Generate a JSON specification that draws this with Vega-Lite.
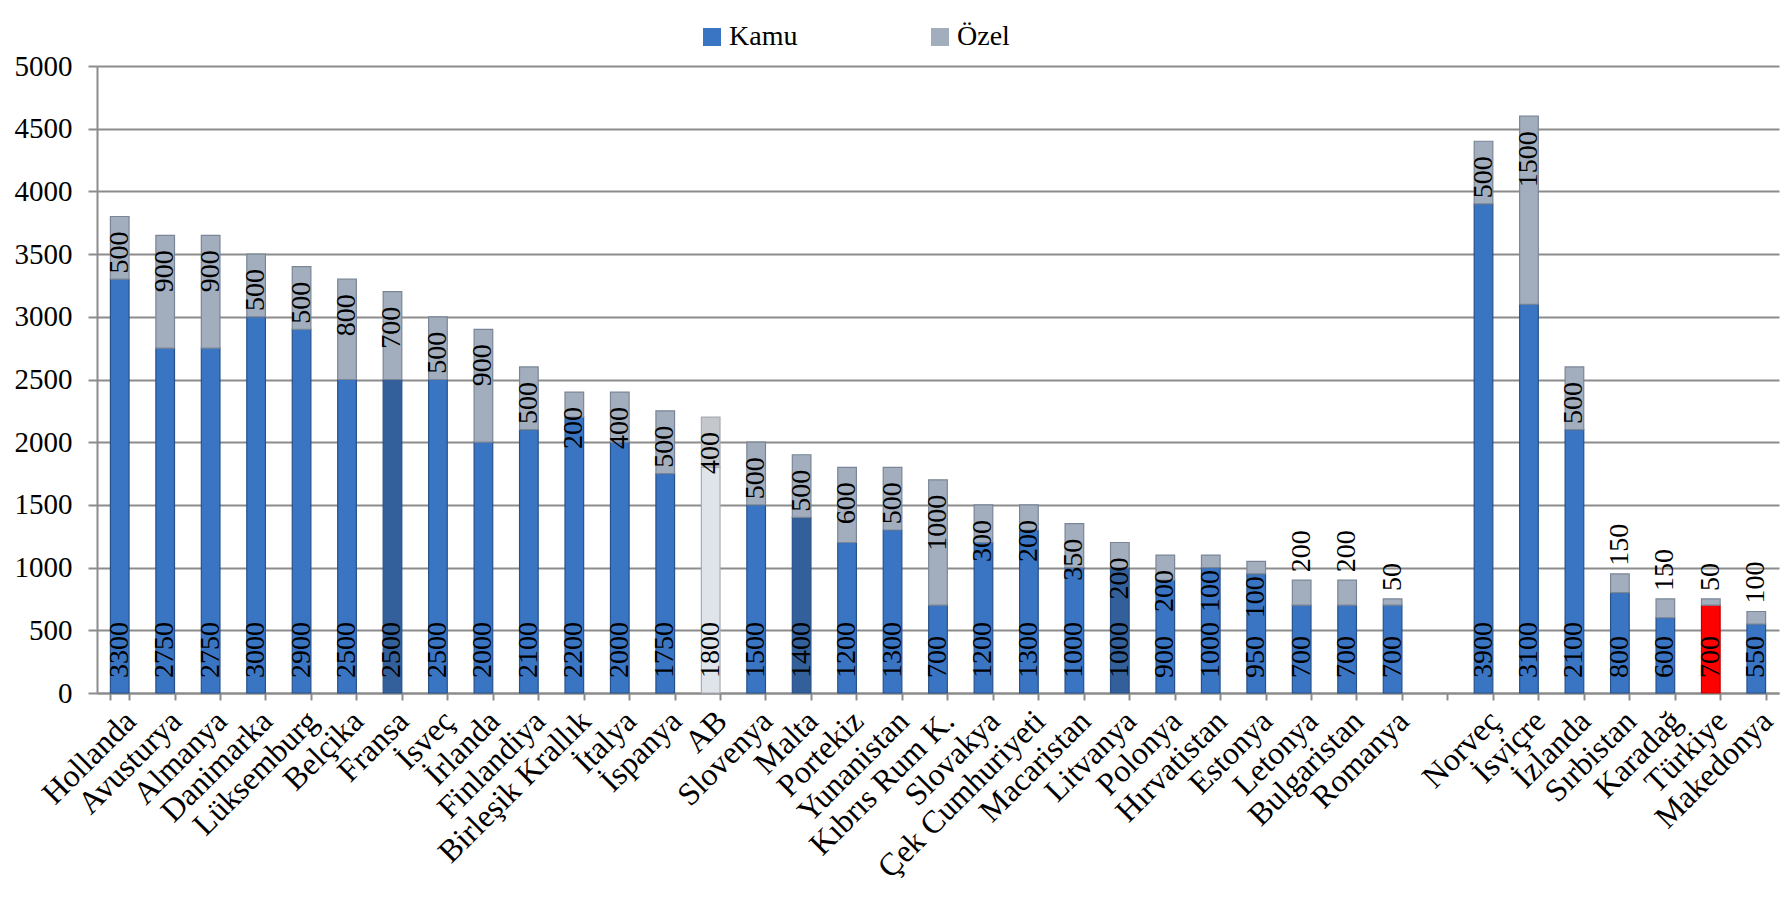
{
  "$schema": "https://vega.github.io/schema/vega-lite/v6.json",
  "width": 1682,
  "height": 627,
  "autosize": {"type": "none"},
  "padding": {"left": 97, "top": 66, "right": 12, "bottom": 229},
  "background": "white",
  "config": {
    "view": {"stroke": null},
    "font": "Liberation Serif",
    "text": {"font": "Liberation Serif"}
  },
  "data": {
    "values": [
      {"country": "Hollanda", "type": "Kamu", "value": 3300}, {"country": "Hollanda", "type": "Özel", "value": 500},
      {"country": "Avusturya", "type": "Kamu", "value": 2750}, {"country": "Avusturya", "type": "Özel", "value": 900},
      {"country": "Almanya", "type": "Kamu", "value": 2750}, {"country": "Almanya", "type": "Özel", "value": 900},
      {"country": "Danimarka", "type": "Kamu", "value": 3000}, {"country": "Danimarka", "type": "Özel", "value": 500},
      {"country": "Lüksemburg", "type": "Kamu", "value": 2900}, {"country": "Lüksemburg", "type": "Özel", "value": 500},
      {"country": "Belçika", "type": "Kamu", "value": 2500}, {"country": "Belçika", "type": "Özel", "value": 800},
      {"country": "Fransa", "type": "Kamu", "value": 2500}, {"country": "Fransa", "type": "Özel", "value": 700},
      {"country": "İsveç", "type": "Kamu", "value": 2500}, {"country": "İsveç", "type": "Özel", "value": 500},
      {"country": "İrlanda", "type": "Kamu", "value": 2000}, {"country": "İrlanda", "type": "Özel", "value": 900},
      {"country": "Finlandiya", "type": "Kamu", "value": 2100}, {"country": "Finlandiya", "type": "Özel", "value": 500},
      {"country": "Birleşik Krallık", "type": "Kamu", "value": 2200}, {"country": "Birleşik Krallık", "type": "Özel", "value": 200},
      {"country": "İtalya", "type": "Kamu", "value": 2000}, {"country": "İtalya", "type": "Özel", "value": 400},
      {"country": "İspanya", "type": "Kamu", "value": 1750}, {"country": "İspanya", "type": "Özel", "value": 500},
      {"country": "AB", "type": "Kamu", "value": 1800}, {"country": "AB", "type": "Özel", "value": 400},
      {"country": "Slovenya", "type": "Kamu", "value": 1500}, {"country": "Slovenya", "type": "Özel", "value": 500},
      {"country": "Malta", "type": "Kamu", "value": 1400}, {"country": "Malta", "type": "Özel", "value": 500},
      {"country": "Portekiz", "type": "Kamu", "value": 1200}, {"country": "Portekiz", "type": "Özel", "value": 600},
      {"country": "Yunanistan", "type": "Kamu", "value": 1300}, {"country": "Yunanistan", "type": "Özel", "value": 500},
      {"country": "Kıbrıs Rum K.", "type": "Kamu", "value": 700}, {"country": "Kıbrıs Rum K.", "type": "Özel", "value": 1000},
      {"country": "Slovakya", "type": "Kamu", "value": 1200}, {"country": "Slovakya", "type": "Özel", "value": 300},
      {"country": "Çek Cumhuriyeti", "type": "Kamu", "value": 1300}, {"country": "Çek Cumhuriyeti", "type": "Özel", "value": 200},
      {"country": "Macaristan", "type": "Kamu", "value": 1000}, {"country": "Macaristan", "type": "Özel", "value": 350},
      {"country": "Litvanya", "type": "Kamu", "value": 1000}, {"country": "Litvanya", "type": "Özel", "value": 200},
      {"country": "Polonya", "type": "Kamu", "value": 900}, {"country": "Polonya", "type": "Özel", "value": 200},
      {"country": "Hırvatistan", "type": "Kamu", "value": 1000}, {"country": "Hırvatistan", "type": "Özel", "value": 100},
      {"country": "Estonya", "type": "Kamu", "value": 950}, {"country": "Estonya", "type": "Özel", "value": 100},
      {"country": "Letonya", "type": "Kamu", "value": 700}, {"country": "Letonya", "type": "Özel", "value": 200},
      {"country": "Bulgaristan", "type": "Kamu", "value": 700}, {"country": "Bulgaristan", "type": "Özel", "value": 200},
      {"country": "Romanya", "type": "Kamu", "value": 700}, {"country": "Romanya", "type": "Özel", "value": 50},
      {"country": "Norveç", "type": "Kamu", "value": 3900}, {"country": "Norveç", "type": "Özel", "value": 500},
      {"country": "İsviçre", "type": "Kamu", "value": 3100}, {"country": "İsviçre", "type": "Özel", "value": 1500},
      {"country": "İzlanda", "type": "Kamu", "value": 2100}, {"country": "İzlanda", "type": "Özel", "value": 500},
      {"country": "Sırbistan", "type": "Kamu", "value": 800}, {"country": "Sırbistan", "type": "Özel", "value": 150},
      {"country": "Karadağ", "type": "Kamu", "value": 600}, {"country": "Karadağ", "type": "Özel", "value": 150},
      {"country": "Türkiye", "type": "Kamu", "value": 700}, {"country": "Türkiye", "type": "Özel", "value": 50},
      {"country": "Makedonya", "type": "Kamu", "value": 550}, {"country": "Makedonya", "type": "Özel", "value": 100}
    ]
  },
  "transform": [
    {"stack": "value", "groupby": ["country"], "sort": [{"field": "type", "order": "ascending"}], "as": ["v0", "v1"]}
  ],
  "encoding": {
    "x": {
      "field": "country",
      "type": "nominal",
      "scale": {
        "domain": ["Hollanda", "Avusturya", "Almanya", "Danimarka", "Lüksemburg", "Belçika", "Fransa", "İsveç", "İrlanda", "Finlandiya", "Birleşik Krallık", "İtalya", "İspanya", "AB", "Slovenya", "Malta", "Portekiz", "Yunanistan", "Kıbrıs Rum K.", "Slovakya", "Çek Cumhuriyeti", "Macaristan", "Litvanya", "Polonya", "Hırvatistan", "Estonya", "Letonya", "Bulgaristan", "Romanya", " ", "Norveç", "İsviçre", "İzlanda", "Sırbistan", "Karadağ", "Türkiye", "Makedonya"],
        "paddingInner": 0.59,
        "paddingOuter": 0.295
      },
      "axis": {
        "title": null,
        "labelAngle": -45,
        "labelFont": "Liberation Serif",
        "labelFontSize": 32,
        "labelColor": "#000000",
        "labelPadding": 5,
        "labelLimit": 0,
        "tickBand": "extent",
        "tickSize": 7,
        "tickColor": "#8c8c8c",
        "tickWidth": 2,
        "domainColor": "#8c8c8c",
        "domainWidth": 2,
        "labelOverlap": false
      }
    }
  },
  "layer": [
    {
      "mark": {"type": "bar", "strokeWidth": 1.2},
      "encoding": {
        "y": {
          "field": "v0",
          "type": "quantitative",
          "scale": {"domain": [0, 5000]},
          "axis": {
            "title": null,
            "values": [0, 500, 1000, 1500, 2000, 2500, 3000, 3500, 4000, 4500, 5000],
            "format": "d",
            "labelFont": "Liberation Serif",
            "labelFontSize": 29,
            "labelColor": "#000000",
            "labelPadding": 16,
            "tickSize": 9,
            "tickColor": "#8c8c8c",
            "tickWidth": 2,
            "domainColor": "#8c8c8c",
            "domainWidth": 2,
            "gridColor": "#8c8c8c",
            "gridWidth": 2,
            "gridOpacity": 1
          }
        },
        "y2": {"field": "v1"},
        "color": {
          "field": "type",
          "type": "nominal",
          "scale": {"domain": ["Kamu", "Özel"], "range": ["#3a75c4", "#a2aebe"]},
          "condition": [
            {"test": "datum.country === 'Türkiye' && datum.type === 'Kamu'", "value": "#ff0000"},
            {"test": "datum.country === 'AB' && datum.type === 'Kamu'", "value": "#dfe4ea"},
            {"test": "datum.country === 'AB' && datum.type === 'Özel'", "value": "#c4c7cb"},
            {"test": "(datum.country === 'Fransa' || datum.country === 'Malta' || datum.country === 'Litvanya') && datum.type === 'Kamu'", "value": "#33609a"}
          ],
          "legend": {
            "title": null,
            "orient": "none",
            "legendX": 601,
            "legendY": -43,
            "direction": "horizontal",
            "symbolType": "square",
            "symbolSize": 324,
            "symbolStrokeWidth": 0,
            "labelFont": "Liberation Serif",
            "labelFontSize": 28,
            "labelColor": "#000000",
            "labelOffset": 3,
            "columnPadding": 128
          }
        },
        "stroke": {
          "field": "type",
          "type": "nominal",
          "scale": {"domain": ["Kamu", "Özel"], "range": ["#27518a", "#7a8696"]},
          "condition": [
            {"test": "datum.country === 'Türkiye' && datum.type === 'Kamu'", "value": "#c00000"},
            {"test": "datum.country === 'AB'", "value": "#a8acb2"}
          ],
          "legend": null
        }
      }
    },
    {
      "transform": [{"filter": "datum.type === 'Kamu'"}],
      "mark": {"type": "text", "angle": 270, "align": "left", "baseline": "middle", "dx": 15, "font": "Liberation Serif", "fontSize": 28, "color": "#000000"},
      "encoding": {
        "y": {"field": "v0", "type": "quantitative"},
        "text": {"field": "value", "type": "quantitative"}
      }
    },
    {
      "transform": [{"filter": "datum.type === 'Özel' && indexof(['Letonya','Bulgaristan','Romanya','Sırbistan','Karadağ','Türkiye','Makedonya'], datum.country) < 0"}],
      "mark": {"type": "text", "angle": 270, "align": "right", "baseline": "middle", "dx": -15, "font": "Liberation Serif", "fontSize": 28, "color": "#000000"},
      "encoding": {
        "y": {"field": "v1", "type": "quantitative"},
        "text": {"field": "value", "type": "quantitative"}
      }
    },
    {
      "transform": [{"filter": "datum.type === 'Özel' && indexof(['Letonya','Bulgaristan','Romanya','Sırbistan','Karadağ','Türkiye','Makedonya'], datum.country) >= 0"}],
      "mark": {"type": "text", "angle": 270, "align": "left", "baseline": "middle", "dx": 8, "font": "Liberation Serif", "fontSize": 28, "color": "#000000"},
      "encoding": {
        "y": {"field": "v1", "type": "quantitative"},
        "text": {"field": "value", "type": "quantitative"}
      }
    }
  ]
}
